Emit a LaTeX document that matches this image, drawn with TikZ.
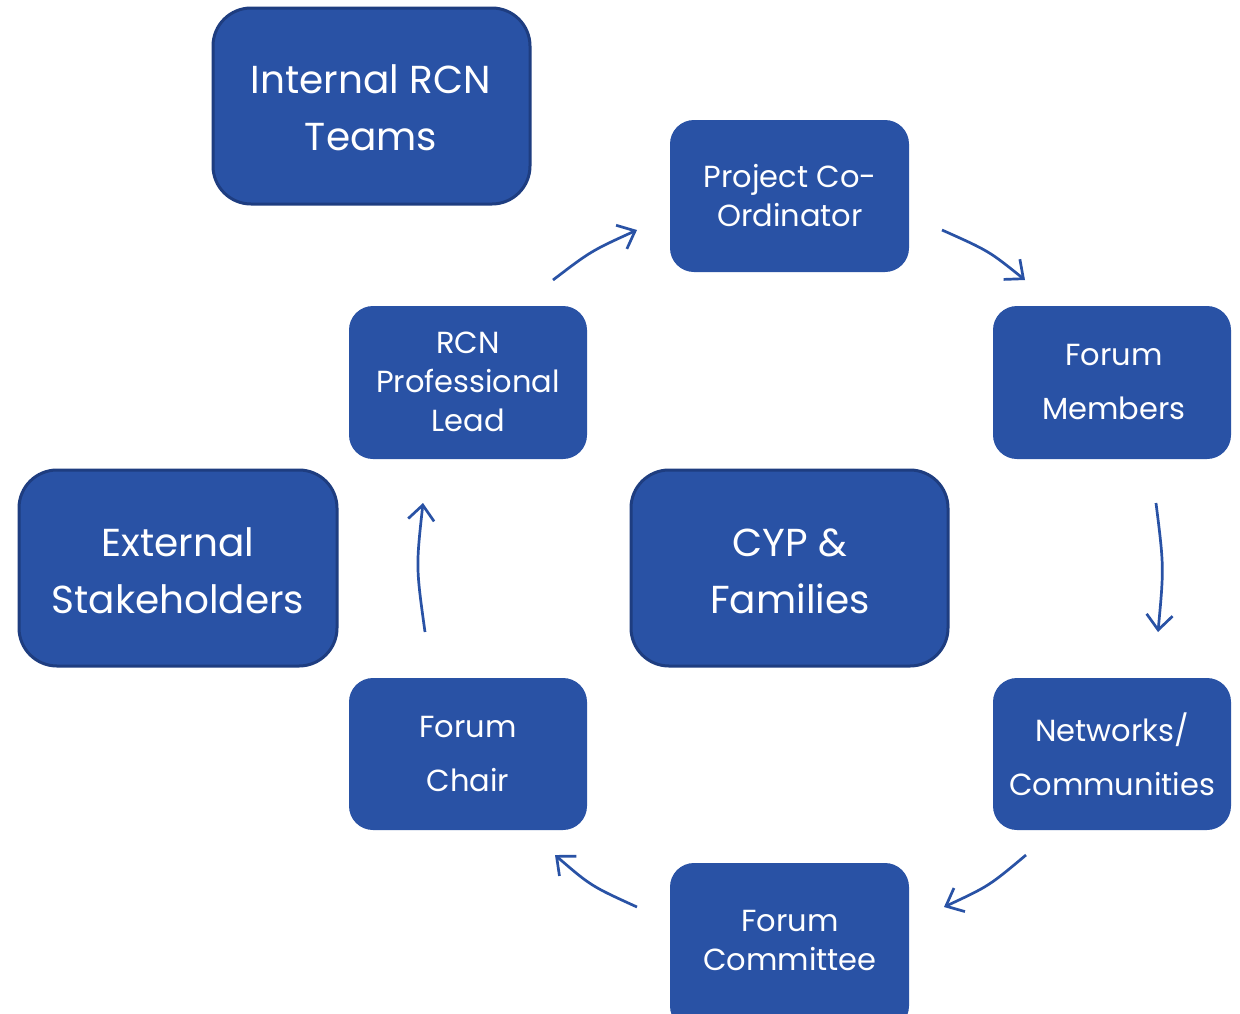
\documentclass[tikz,border=0pt]{standalone}
\usepackage{fontspec}
\setmainfont{Poppins}
\usetikzlibrary{arrows.meta}
\definecolor{boxblue}{HTML}{2952A5}
\definecolor{boxedge}{HTML}{1E3D80}
\tikzset{
  x=1pt, y=-1pt,
  bigbox/.style={draw=boxedge, line width=3pt, fill=boxblue, rounded corners=38pt},
  smallbox/.style={fill=boxblue, rounded corners=24pt},
  bigtext/.style={text=white, align=center, font=\fontsize{39}{57}\selectfont},
  smalltext/.style={text=white, align=center, font=\fontsize{30.5}{39}\selectfont},
  smalltextwide/.style={text=white, align=center, font=\fontsize{30.5}{54}\selectfont},
  flow/.style={draw=boxblue, line width=2.7pt, -{Straight Barb[length=15pt,width=26pt,line width=2.7pt]}}
}
\begin{document}
\begin{tikzpicture}
\useasboundingbox (0,0) rectangle (1240,1013);
\fill[white] (0,0) rectangle (1240,1013);
\begin{scope}
\clip (0,0) rectangle (1240,1013);
% big boxes
\draw[bigbox] (213,8) rectangle (530,204);
\node[bigtext] (internal) at (371,108) {Internal RCN\\Teams};
\draw[bigbox] (19,470) rectangle (337,666);
\node[bigtext] (external) at (178,571) {External\\Stakeholders};
\draw[bigbox] (631,470) rectangle (948,666);
\node[bigtext] (cyp) at (790,571) {CYP \&\\Families};
% small boxes
\fill[smallbox] (670,120) rectangle (909,272);
\node[smalltext] (coord) at (790,196) {Project Co-\\Ordinator};
\fill[smallbox] (993,306) rectangle (1231,459);
\node[smalltextwide] (members) at (1114,382) {Forum\\Members};
\fill[smallbox] (349,306) rectangle (587,459);
\node[smalltext] (lead) at (468,382) {RCN\\Professional\\Lead};
\fill[smallbox] (349,678) rectangle (587,830);
\node[smalltextwide] (chair) at (468,754) {Forum\\Chair};
\fill[smallbox] (993,678) rectangle (1231,830);
\node[smalltextwide] (networks) at (1112,754) {Networks/\\Communities};
\fill[smallbox] (670,863) rectangle (909,1030);
\node[smalltext] (committee) at (790,940) {Forum\\Committee};
\end{scope}
% arrow end points
\coordinate (a1s) at (553,280); \coordinate (a1c) at (591,251); \coordinate (a1e) at (637,230);
\coordinate (a2s) at (942,230); \coordinate (a2c) at (989,251); \coordinate (a2e) at (1025,280);
\coordinate (a3s) at (1156,503); \coordinate (a3c) at (1164,567); \coordinate (a3e) at (1158,632);
\coordinate (a4s) at (1026,855); \coordinate (a4c) at (989,886); \coordinate (a4e) at (944,907);
\coordinate (a5s) at (637,907); \coordinate (a5c) at (591,886); \coordinate (a5e) at (555,855);
\coordinate (a6s) at (425,632); \coordinate (a6c) at (416,567); \coordinate (a6e) at (423,503);
\draw[flow] (a1s) .. controls (a1c) .. (a1e);
\draw[flow] (a2s) .. controls (a2c) .. (a2e);
\draw[flow] (a3s) .. controls (a3c) .. (a3e);
\draw[flow] (a4s) .. controls (a4c) .. (a4e);
\draw[flow] (a5s) .. controls (a5c) .. (a5e);
\draw[flow] (a6s) .. controls (a6c) .. (a6e);
\end{tikzpicture}
\end{document}
